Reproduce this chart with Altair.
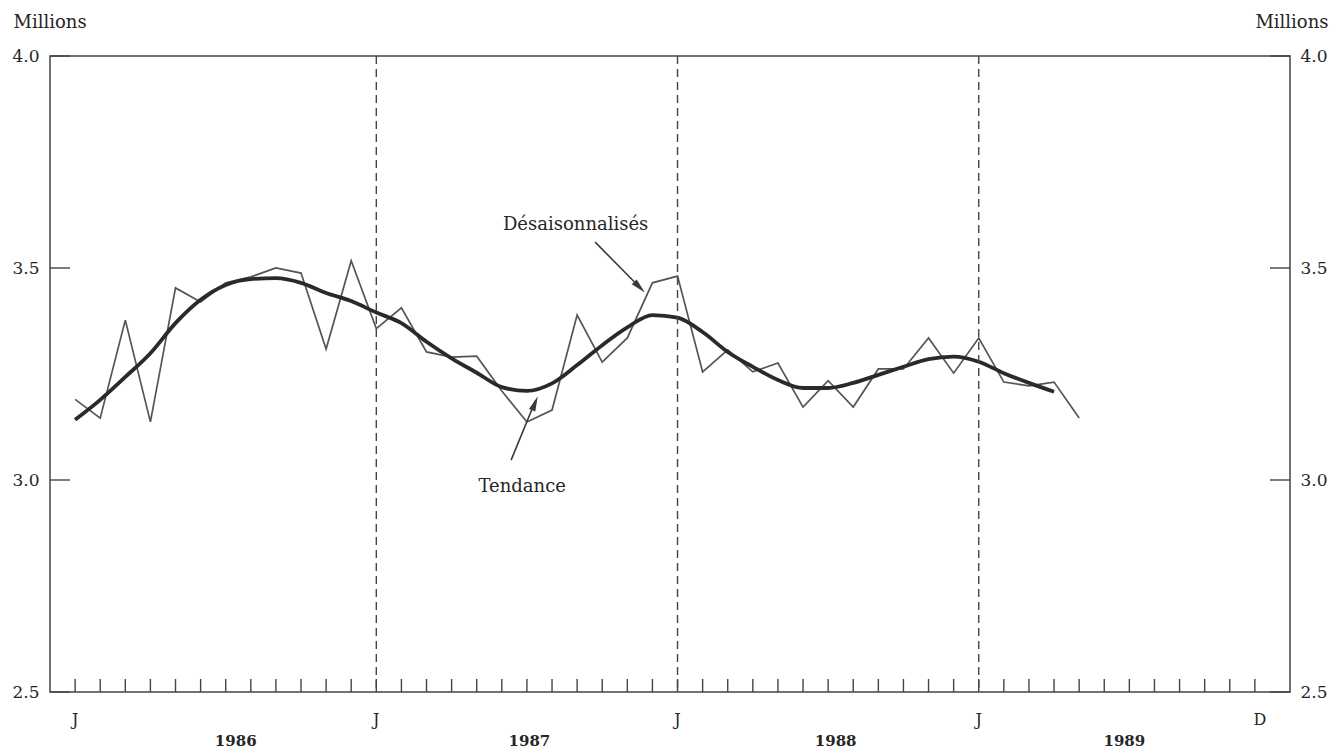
import altair as alt
import pandas as pd

# ---------------- data ----------------
sa_months = list(range(41))
sa_values = [3.190, 3.146, 3.377, 3.137, 3.453, 3.420, 3.465, 3.479, 3.500, 3.488,
             3.309, 3.517, 3.357, 3.406, 3.302, 3.290, 3.292, 3.210, 3.137, 3.165,
             3.389, 3.278, 3.335, 3.465, 3.481, 3.255, 3.307, 3.255, 3.276, 3.172,
             3.234, 3.172, 3.262, 3.262, 3.335, 3.252, 3.335, 3.231, 3.222, 3.231,
             3.146]

trend_months = list(range(40))
trend_values = [3.142, 3.189, 3.243, 3.299, 3.370, 3.425, 3.460, 3.474, 3.476, 3.465,
                3.441, 3.422, 3.395, 3.370, 3.326, 3.287, 3.253, 3.219, 3.210, 3.228,
                3.271, 3.318, 3.360, 3.389, 3.383, 3.349, 3.302, 3.267, 3.236, 3.217,
                3.217, 3.229, 3.248, 3.267, 3.285, 3.291, 3.279, 3.252, 3.229, 3.208]

y_tick_values = [2.5, 3.0, 3.5, 4.0]
month_ticks = list(range(48))
year_breaks = [12, 24, 36]
month_label_pos = [0, 12, 24, 36, 47.2]
month_labels = ["J", "J", "J", "J", "D"]
year_labels = ["1986", "1987", "1988", "1989"]
year_label_pos = [6.4, 18.1, 30.3, 41.8]

ann_text = ["Désaisonnalisés", "Tendance"]
ann_text_x = [19.94, 17.81]
ann_text_y = [3.601, 2.983]
arrow_x0 = [20.72, 17.37]
arrow_y0 = [3.561, 3.047]
arrow_x1 = [22.55, 18.34]
arrow_y1 = [3.451, 3.187]
head_x = [22.45, 18.30]
head_y = [3.457, 3.178]
head_angle = [135.6, 21.8]

# ---------------- tables ----------------
sa_df = pd.DataFrame({"m": sa_months, "v": sa_values})
tr_df = pd.DataFrame({"m": trend_months, "v": trend_values})
yt_df = pd.DataFrame({"v": y_tick_values})
mt_df = pd.DataFrame({"m": month_ticks})
yb_df = pd.DataFrame({"m": year_breaks})
ml_df = pd.DataFrame({"m": month_label_pos, "t": month_labels})
yl_df = pd.DataFrame({"m": year_label_pos, "t": year_labels})
ann_df = pd.DataFrame({"x": ann_text_x, "y": ann_text_y, "t": ann_text})
arr_df = pd.DataFrame({"x0": arrow_x0, "y0": arrow_y0, "x1": arrow_x1, "y1": arrow_y1})
head_df = pd.DataFrame({"x": head_x, "y": head_y, "a": head_angle})

W, H = 1240, 636
FONT = "DejaVu Serif"
INK = "#262626"

xs = alt.Scale(domain=[-1.0, 48.4], nice=False, zero=False)
ys = alt.Scale(domain=[2.5, 4.0], nice=False, zero=False)

left_axis = alt.Axis(values=y_tick_values, format=".1f", orient="left", ticks=False,
                     domain=False, grid=False, labelPadding=11, labelFont=FONT,
                     labelFontSize=17, labelColor=INK, title="Millions", titleAngle=0,
                     titleAlign="left", titleBaseline="middle", titleX=-37, titleY=-34,
                     titleFont=FONT, titleFontSize=18, titleFontWeight="normal",
                     titleColor=INK)

right_axis = alt.Axis(values=y_tick_values, format=".1f", orient="right", ticks=False,
                      domain=False, grid=False, labelPadding=10, labelFont=FONT,
                      labelFontSize=17, labelColor=INK, title="Millions", titleAngle=0,
                      titleAlign="right", titleBaseline="middle", titleX=38, titleY=-34,
                      titleFont=FONT, titleFontSize=18, titleFontWeight="normal",
                      titleColor=INK)

thin = alt.Chart(sa_df).mark_line(color="#555555", strokeWidth=1.7).encode(
    x=alt.X("m:Q", scale=xs, axis=None),
    y=alt.Y("v:Q", scale=ys, axis=left_axis),
)

thick = alt.Chart(tr_df).mark_line(color="#2a2a2a", strokeWidth=3.8,
                                   interpolate="monotone").encode(
    x=alt.X("m:Q", scale=xs, axis=None),
    y=alt.Y("v:Q", scale=ys, axis=right_axis),
)

dashes = alt.Chart(yb_df).mark_rule(color="#444", strokeWidth=1.4,
                                    strokeDash=[8, 5]).encode(
    x=alt.X("m:Q", scale=xs, axis=None),
)

month_tick_marks = alt.Chart(mt_df).mark_rule(color="#444", strokeWidth=1.4).encode(
    x=alt.X("m:Q", scale=xs, axis=None),
    y=alt.value(H),
    y2=alt.value(H - 13),
)

ytick_left = alt.Chart(yt_df).mark_rule(color="#444", strokeWidth=1.4).encode(
    y=alt.Y("v:Q", scale=ys, axis=None),
    x=alt.value(0),
    x2=alt.value(20),
)

ytick_right = alt.Chart(yt_df).mark_rule(color="#444", strokeWidth=1.4).encode(
    y=alt.Y("v:Q", scale=ys, axis=None),
    x=alt.value(W - 20),
    x2=alt.value(W),
)

month_text = alt.Chart(ml_df).mark_text(font=FONT, fontSize=16, color=INK,
                                        baseline="middle").encode(
    x=alt.X("m:Q", scale=xs, axis=None),
    y=alt.value(H + 28),
    text="t:N",
)

years = alt.Chart(yl_df).mark_text(font=FONT, fontSize=15, fontWeight="bold",
                                   color=INK, baseline="middle").encode(
    x=alt.X("m:Q", scale=xs, axis=None),
    y=alt.value(H + 49),
    text="t:N",
)

ann = alt.Chart(ann_df).mark_text(font=FONT, fontSize=18, color=INK,
                                  baseline="middle").encode(
    x=alt.X("x:Q", scale=xs, axis=None),
    y=alt.Y("y:Q", scale=ys, axis=None),
    text="t:N",
)

arrows = alt.Chart(arr_df).mark_rule(color="#3a3a3a", strokeWidth=1.6).encode(
    x=alt.X("x0:Q", scale=xs, axis=None),
    y=alt.Y("y0:Q", scale=ys, axis=None),
    x2="x1:Q",
    y2="y1:Q",
)

heads = alt.Chart(head_df).mark_point(shape="M0,-1L0.38,0.7L-0.38,0.7Z", filled=True,
                                      color="#3a3a3a", opacity=1, size=320).encode(
    x=alt.X("x:Q", scale=xs, axis=None),
    y=alt.Y("y:Q", scale=ys, axis=None),
    angle=alt.Angle("a:Q", scale=None),
)

chart = alt.layer(
    thin, thick, dashes, month_tick_marks, ytick_left, ytick_right,
    month_text, years, ann, arrows, heads
).resolve_axis(y="independent").properties(
    width=W, height=H,
    autosize=alt.AutoSizeParams(type="none"),
    padding={"left": 42, "top": 48, "right": 40, "bottom": 60},
    background="white",
).configure_view(stroke="#444", strokeWidth=1.5)

chart.save("out.html", embed_options={"renderer": "svg", "actions": False})
